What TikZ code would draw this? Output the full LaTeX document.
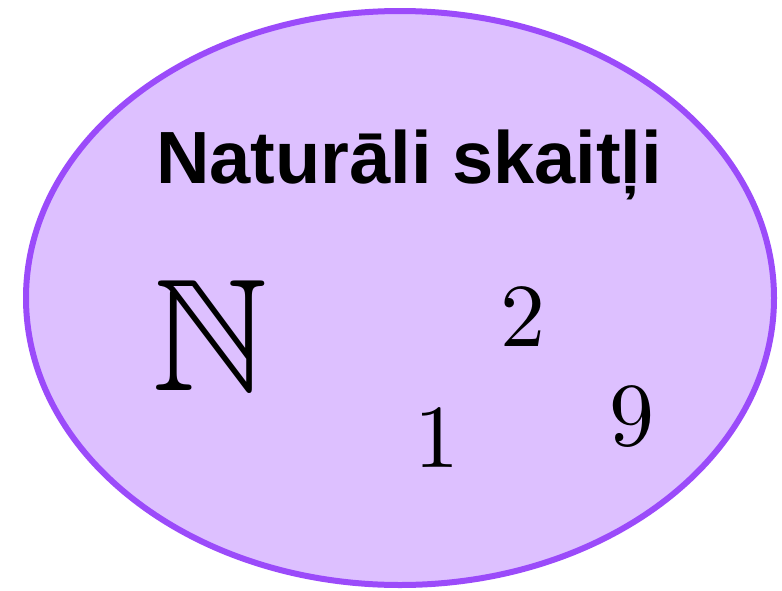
\documentclass[tikz,border=0pt]{standalone}
\usepackage{fontspec}
\usepackage{amssymb}
\newfontfamily\titlefont{Liberation Sans}
\newfontfamily\digitfont{lmroman10-regular}[Extension=.otf]
\definecolor{setfill}{RGB}{221,192,255}
\definecolor{setline}{RGB}{155,75,250}
\tikzset{
  setshape/.style={draw=setline, fill=setfill, line width=6pt},
  titletext/.style={inner sep=0pt, font=\titlefont\bfseries\fontsize{74}{74}\selectfont},
  numtext/.style={inner sep=0pt, font=\digitfont\fontsize{90}{90}\selectfont},
  bbtext/.style={inner sep=0pt, font=\fontsize{160}{160}\selectfont},
}
\begin{document}
\begin{tikzpicture}[x=1pt,y=-1pt]
\useasboundingbox (0,0) rectangle (782,590);
\draw[setshape] (400,298) ellipse [x radius=374, y radius=287];
\node[titletext, anchor=base] (title) at (409,183) {Naturāli skaitļi};
\node[bbtext, anchor=base] (nat) at (210,390) {$\mathbb{N}$};
\node[numtext, anchor=base] (two) at (523,346) {2};
\node[numtext, anchor=base] (nine) at (632,445) {9};
\node[numtext, anchor=base] (one) at (437,467) {1};
\end{tikzpicture}
\end{document}
